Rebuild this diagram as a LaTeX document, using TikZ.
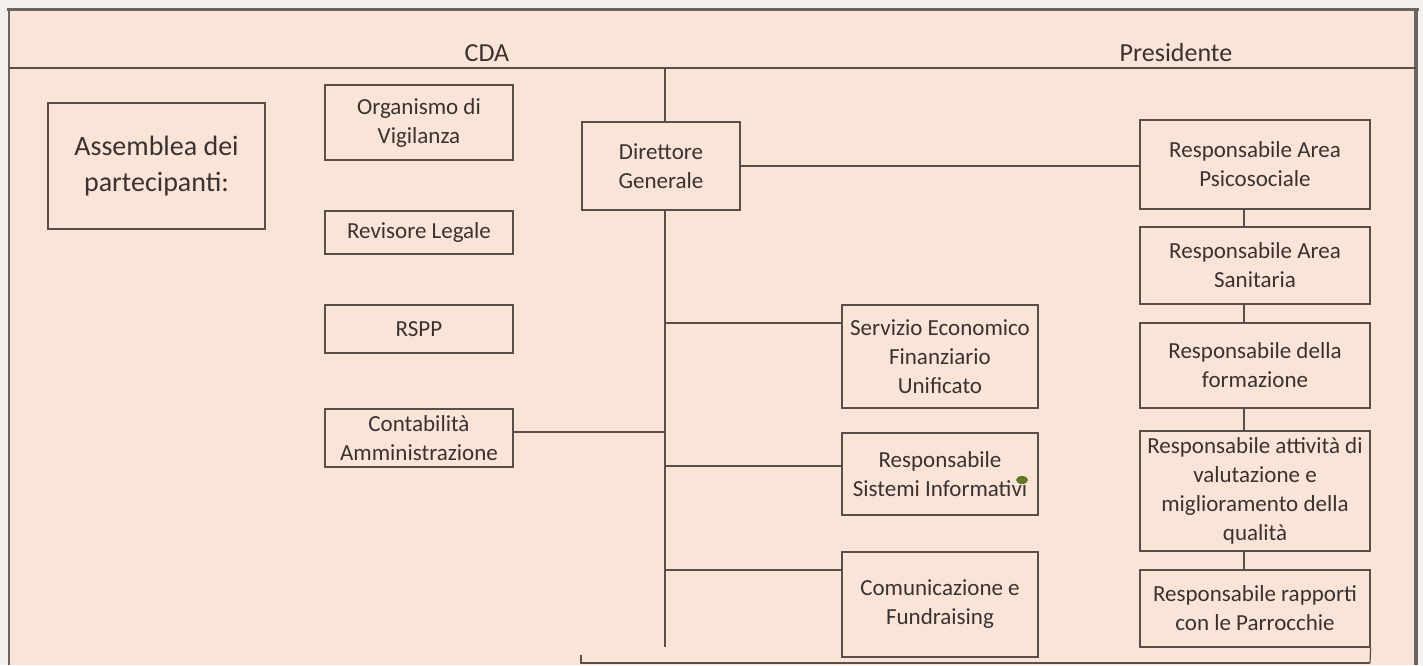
\documentclass[tikz,border=0pt]{standalone}
\usepackage{fontspec}
\setmainfont{Carlito}
\definecolor{bg}{RGB}{250,227,215}
\definecolor{outside}{RGB}{244,240,237}
\definecolor{ln}{RGB}{90,78,74}
\definecolor{txt}{RGB}{58,50,48}
\definecolor{frame}{RGB}{105,100,98}
\definecolor{blob}{RGB}{100,118,40}
\begin{document}
\begin{tikzpicture}[x=1pt,y=-1pt,
  box/.style={draw=ln,line width=1.2pt,rectangle,inner sep=0pt,align=center,
    text=txt,font=\fontsize{23}{29}\selectfont},
  conn/.style={draw=ln,line width=1.2pt},
  head/.style={text=txt,font=\fontsize{26}{30}\selectfont,inner sep=0pt}]
\useasboundingbox (0,0) rectangle (1423,665);
\fill[outside] (0,0) rectangle (1423,665);
\fill[bg] (9,9) rectangle (1416,665);
% frame
\draw[frame,line width=3pt] (7,9) -- (1419,9);
\draw[frame,line width=1.5pt] (9,9) -- (9,665);
\draw[frame,line width=4pt] (1416,9) -- (1416,665);
\draw[conn] (9,68) -- (1416,68);
% headers
\node[head] (cda) at (487,53) {CDA};
\node[head] (pres) at (1176,53) {Presidente};
% left boxes
\node[box,minimum width=217pt,minimum height=126pt,font=\fontsize{28}{36}\selectfont] (ass) at (156.5,166) {Assemblea dei\\partecipanti:};
\node[box,minimum width=188pt,minimum height=75pt] (org) at (419,122.5) {Organismo di\\Vigilanza};
\node[box,minimum width=188pt,minimum height=43pt] (rev) at (419,232.5) {Revisore Legale};
\node[box,minimum width=188pt,minimum height=48pt] (rspp) at (419,329) {RSPP};
\node[box,minimum width=188pt,minimum height=58pt] (cont) at (419,438) {Contabilità\\Amministrazione};
% centre
\node[box,minimum width=158pt,minimum height=88pt] (dir) at (661,166) {Direttore\\Generale};
\node[box,minimum width=196pt,minimum height=103pt] (serv) at (940,356.5) {Servizio Economico\\Finanziario\\Unificato};
\node[box,minimum width=196pt,minimum height=82pt] (sist) at (940,474) {Responsabile\\Sistemi Informativi};
\node[box,minimum width=196pt,minimum height=105pt] (com) at (940,604.5) {Comunicazione e\\Fundraising};
% right column
\node[box,minimum width=230pt,minimum height=89pt] (r1) at (1255,164.5) {Responsabile Area\\Psicosociale};
\node[box,minimum width=230pt,minimum height=77pt] (r2) at (1255,265.5) {Responsabile Area\\Sanitaria};
\node[box,minimum width=230pt,minimum height=85pt] (r3) at (1255,365.5) {Responsabile della\\formazione};
\node[box,minimum width=230pt,minimum height=120pt] (r4) at (1255,491) {Responsabile attività di\\valutazione e\\miglioramento della\\qualità};
\node[box,minimum width=230pt,minimum height=77pt] (r5) at (1255,608.5) {Responsabile rapporti\\con le Parrocchie};
% connectors
\coordinate (top) at (665,68);
\coordinate (tend) at (665,647);
\coordinate (bl) at (581,663);
\coordinate (bt) at (581,655);
\coordinate (br) at (1370,663);
\draw[conn] (top) -- (top |- dir.north);
\draw[conn] (dir.east) -- (dir.east -| r1.west);
\draw[conn] (top |- dir.south) -- (tend);
\draw[conn] (665,323) -- (serv.west |- 0,323);
\draw[conn] (cont.east |- 0,432) -- (665,432);
\draw[conn] (665,466) -- (sist.west |- 0,466);
\draw[conn] (665,570) -- (com.west |- 0,570);
\foreach \a/\b in {r1/r2,r2/r3,r3/r4,r4/r5}
  \draw[conn] (1244,0 |- \a.south) -- (1244,0 |- \b.north);
\draw[conn] (r5.south east) -- (br);
\draw[conn] (bt) -- (bl) -- (br);
% scan blot
\fill[blob] (1022,480) ellipse (6pt and 4pt);
\end{tikzpicture}
\end{document}
